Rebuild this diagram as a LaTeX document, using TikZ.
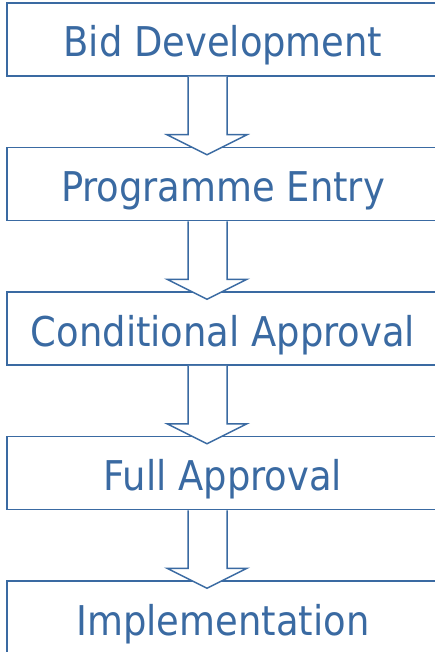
\documentclass[tikz,border=0pt]{standalone}
\usepackage{fontspec}
\setmainfont{DejaVu Sans Condensed}
\usepackage{tikz}
\usetikzlibrary{positioning}

\definecolor{stageblue}{HTML}{3A6AA2}

\tikzset{
  stage/.style={draw=stageblue,line width=1.5pt,fill=white,text=stageblue,
    minimum width=432pt,minimum height=73pt,inner sep=0pt,
    text height=54pt,text depth=19pt,
    font=\fontsize{41pt}{45pt}\selectfont},
  stagearrow/.style={draw=stageblue,line width=1.5pt,fill=white,line join=miter}
}

% block arrow from the bottom of one stage to the top of the next
\newcommand\stagearrow[2]{%
  \draw[stagearrow] ([xshift=-35pt]#1.south)
    -- ([xshift=-35pt,yshift=12pt]#2.north)
    -- ([xshift=-56pt,yshift=12pt]#2.north)
    -- ([xshift=-16pt,yshift=-8pt]#2.north)
    -- ([xshift=24pt,yshift=12pt]#2.north)
    -- ([xshift=4pt,yshift=12pt]#2.north)
    -- ([xshift=4pt]#1.south);}

\begin{document}
\begin{tikzpicture}[node distance=70pt]
\useasboundingbox (0,0) rectangle (435pt,-652pt);
\node[stage] (bid) at (223pt,-39.5pt) {Bid Development};
\node[stage,below=of bid] (entry) {Programme Entry};
\node[stage,below=of entry] (cond) {Conditional Approval};
\node[stage,below=of cond] (full) {Full Approval};
\node[stage,below=of full] (impl) {Implementation};
\stagearrow{bid}{entry}
\stagearrow{entry}{cond}
\stagearrow{cond}{full}
\stagearrow{full}{impl}
\end{tikzpicture}
\end{document}
